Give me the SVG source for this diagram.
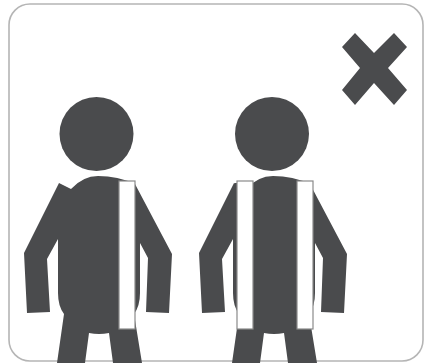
<svg xmlns="http://www.w3.org/2000/svg" width="431" height="363" viewBox="0 0 431 363">
<style>
.ink{fill:#4a4b4d}
.strip{fill:#fff;stroke:#8a8a8a;stroke-width:1.2}
</style>
<defs>
<path id="figure" d="M59 183 L71 189 Q83 176 98 176 Q118 176 135 184 L172 254 L169 313 L146 312 L148 258 L140 243 L140 293 Q140 306 134 314 L142 363 L113 363 L109 333 Q99 335 89 333 L85 363 L57 363 L64 314 Q58 306 58 293 L58 239 L47 259 L50 312 L27 313 L24 253 Z"/>
</defs>
<rect width="431" height="363" fill="#fff"/>
<rect x="9" y="4" width="414" height="357" rx="21" ry="21" fill="#fff" stroke="#b5b5b5" stroke-width="1.6"/>
<g id="person-left">
<circle class="ink" cx="96.500" cy="134" r="37"/>
<use href="#figure" class="ink"/>
<rect class="strip" x="119" y="181" width="16" height="148"/>
</g>
<g id="person-right">
<circle class="ink" cx="272" cy="134" r="37"/>
<use href="#figure" class="ink" x="175"/>
<path class="ink" d="M235 183 L250 183 L250 200 L220 215 Z"/>
<rect class="strip" x="237" y="181" width="16" height="148"/>
<rect class="strip" x="297" y="181" width="16" height="148"/>
</g>
<g id="cross-mark">
<path class="ink" d="M342 47 L355 33 L374 53 L394 33 L407 47 L388 68 L407 90 L394 105 L374 83 L355 105 L342 90 L360 68 Z"/>
</g>
</svg>
